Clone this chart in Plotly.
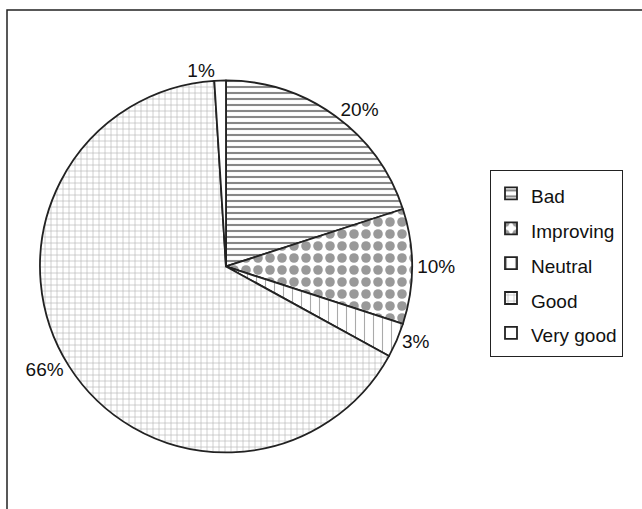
import plotly.graph_objects as go

categories = ["Bad", "Improving", "Neutral", "Good", "Very good"]
values = [20, 10, 3, 66, 1]

legend_labels = ['<span style="font-size:19px">%s</span>' % c for c in categories]

fig = go.Figure()
fig.add_trace(go.Pie(
    labels=legend_labels,
    values=values,
    sort=False,
    direction="clockwise",
    rotation=0,
    texttemplate="%{percent:.0%}",
    textposition="outside",
    textfont=dict(family="Liberation Sans, Arial", size=19, color="#111"),
    marker=dict(
        colors=["white"] * 5,
        line=dict(color="#222", width=1.8),
        pattern=dict(
            shape=["-", ".", "|", "+", ""],
            fgcolor=["#888", "#999", "#aaa", "#b4b4b4", "#fff"],
            bgcolor=["white"] * 5,
            size=[6, 12, 9, 6, 8],
            solidity=[0.35, 0.5, 0.12, 0.2, 0.1],
        ),
    ),
    domain=dict(x=[0.0623, 0.6417], y=[0.110, 0.843]),
    showlegend=True,
    hoverinfo="percent",
))

fig.add_shape(type="rect", xref="paper", yref="paper",
              x0=7/642, x1=1.02, y0=-0.05, y1=1-10/509,
              line=dict(color="#222", width=1.5), fillcolor="rgba(0,0,0,0)")

fig.update_layout(
    width=642, height=509,
    margin=dict(l=0, r=0, t=0, b=0),
    paper_bgcolor="white", plot_bgcolor="white",
    font=dict(family="Liberation Sans, Arial", size=17, color="#111"),
    legend=dict(
        x=490/642, y=1-170/509, xanchor="left", yanchor="top",
        bordercolor="#222", borderwidth=1, bgcolor="white",
        font=dict(size=24.5), itemwidth=30,
    ),
)

fig.write_html("out.html", config={"displayModeBar": False},
               post_script="document.body.style.margin='0';")
